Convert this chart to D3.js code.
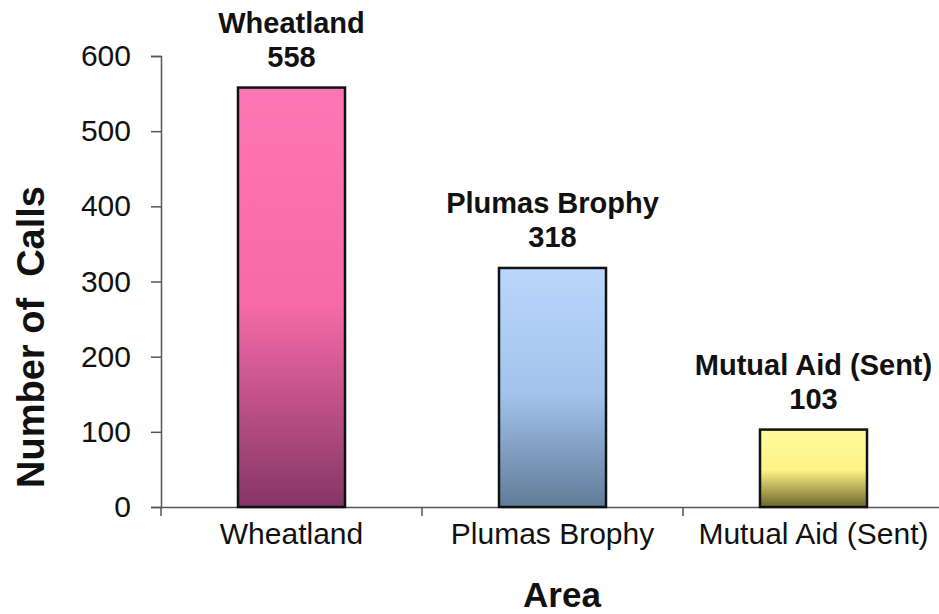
<!DOCTYPE html>
<html>
<head>
<meta charset="utf-8">
<script src="https://cdn.jsdelivr.net/npm/d3@7"></script>
<style>
  body { margin: 0; background: #fff; }
  text { font-family: "Liberation Sans", Arial, sans-serif; fill: #111; }
</style>
</head>
<body>
<div id="chart"></div>
<script>
// Données
const areas = ["Wheatland", "Plumas Brophy", "Mutual Aid (Sent)"];
const calls = [558, 318, 103];
const yTicks = [0, 100, 200, 300, 400, 500, 600];
// couleurs du dégradé (haut, milieu, bas)
const barColors = [
    ["#ff76b4", "#f56aa7", "#843665"],
    ["#bad7fb", "#a3c3ec", "#617c99"],
    ["#fffb9e", "#fff386", "#6a662c"]
];

const width = 939;
const height = 614;
const margin = { top: 56, left: 161, bottom: 107 };
const slotWidth = 261;

const svg = d3.select("#chart")
    .append("svg")
    .attr("width", width)
    .attr("height", height);

// Echelles
const x = d3.scaleBand()
    .domain(areas)
    .range([margin.left, margin.left + slotWidth * areas.length])
    .padding(0);

const y = d3.scaleLinear()
    .domain([0, 600])
    .range([height - margin.bottom, margin.top]);

const barW = x.bandwidth() * 0.41;

// Dégradés
const defs = svg.append("defs");
areas.forEach(function(a, i) {
    const g = defs.append("linearGradient")
        .attr("id", "grad" + i)
        .attr("x1", 0).attr("y1", 0).attr("x2", 0).attr("y2", 1);
    g.append("stop").attr("offset", "0%").attr("stop-color", barColors[i][0]);
    g.append("stop").attr("offset", "52%").attr("stop-color", barColors[i][1]);
    g.append("stop").attr("offset", "100%").attr("stop-color", barColors[i][2]);
});

// Axe Y
const yAxis = svg.append("g")
    .attr("transform", `translate(${margin.left},0)`)
    .call(d3.axisLeft(y).tickValues(yTicks).tickSize(10).tickPadding(20));
yAxis.select(".domain").attr("stroke", "#555").attr("stroke-width", 1.5);
yAxis.selectAll(".tick line").attr("stroke", "#555").attr("stroke-width", 1.5);
yAxis.selectAll(".tick text")
    .style("font-size", "30px")
    .style("font-family", "Liberation Sans, Arial, sans-serif")
    .attr("fill", "#111");

// Axe X
const xAxis = svg.append("g")
    .attr("transform", `translate(0,${y(0)})`)
    .call(d3.axisBottom(x).tickSize(0).tickPadding(16));
xAxis.select(".domain").attr("stroke", "#555").attr("stroke-width", 1.5);
xAxis.selectAll(".tick text")
    .style("font-size", "30px")
    .style("font-family", "Liberation Sans, Arial, sans-serif")
    .attr("fill", "#111");

// graduations aux limites des catégories
svg.selectAll(".sep")
    .data(areas)
    .enter()
    .append("line")
    .attr("x1", d => x(d))
    .attr("x2", d => x(d))
    .attr("y1", y(0))
    .attr("y2", y(0) + 9)
    .attr("stroke", "#555")
    .attr("stroke-width", 1.5);

// Barres
svg.selectAll(".bar")
    .data(areas)
    .enter()
    .append("rect")
    .attr("class", "bar")
    .attr("x", d => x(d) + (x.bandwidth() - barW) / 2)
    .attr("width", barW)
    .attr("y", (d, i) => y(calls[i]))
    .attr("height", (d, i) => y(0) - y(calls[i]))
    .attr("fill", (d, i) => `url(#grad${i})`)
    .attr("stroke", "#111")
    .attr("stroke-width", 2.5);

// Etiquettes au-dessus des barres
const labels = svg.selectAll(".lbl")
    .data(areas)
    .enter()
    .append("text")
    .attr("text-anchor", "middle")
    .style("font-size", "29px")
    .style("font-weight", "bold");
labels.append("tspan")
    .attr("x", d => x(d) + x.bandwidth() / 2)
    .attr("y", (d, i) => y(calls[i]) - 55)
    .text(d => d);
labels.append("tspan")
    .attr("x", d => x(d) + x.bandwidth() / 2)
    .attr("y", (d, i) => y(calls[i]) - 21)
    .text((d, i) => calls[i]);

// Titres des axes
svg.append("text")
    .attr("x", 562)
    .attr("y", 607)
    .attr("text-anchor", "middle")
    .style("font-size", "35px")
    .style("font-weight", "bold")
    .text("Area");

svg.append("text")
    .attr("transform", "translate(44,337) rotate(-90)")
    .attr("text-anchor", "middle")
    .attr("xml:space", "preserve")
    .style("white-space", "pre")
    .style("font-size", "38px")
    .style("font-weight", "bold")
    .text("Number of  Calls");
</script>
</body>
</html>
